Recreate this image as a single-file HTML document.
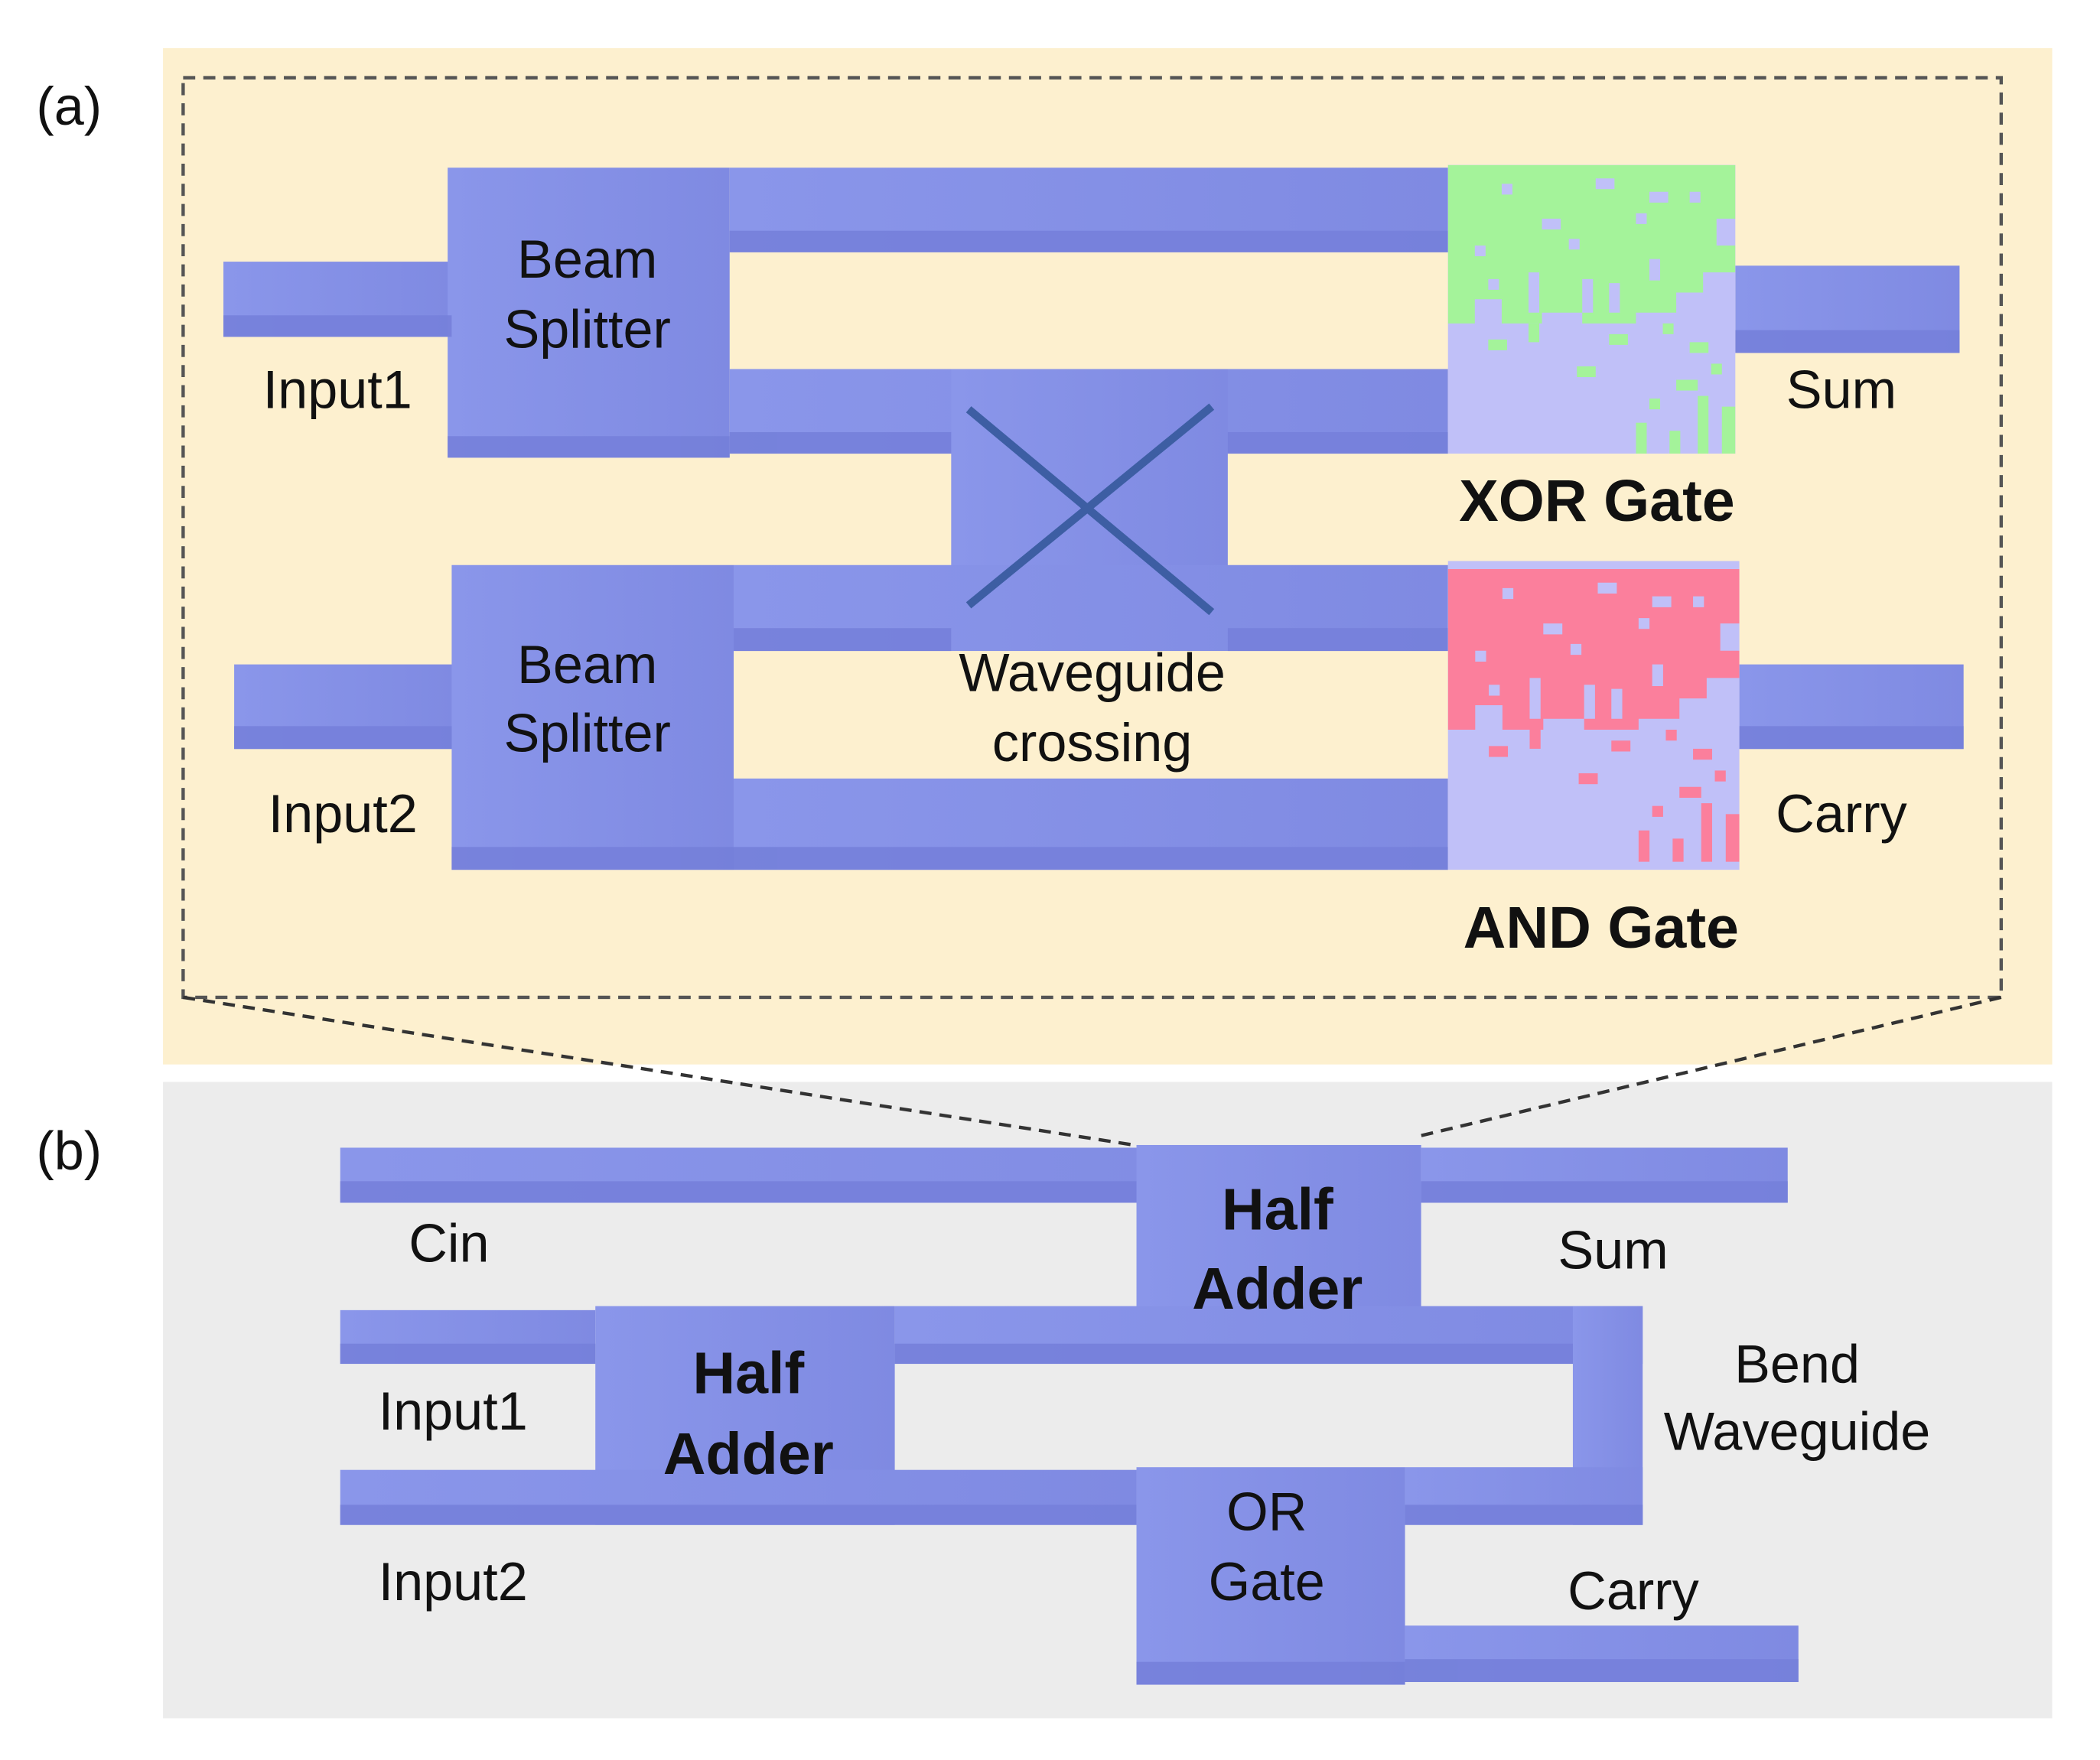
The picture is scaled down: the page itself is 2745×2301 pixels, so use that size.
<!DOCTYPE html>
<html><head><meta charset="utf-8"><style>html,body{margin:0;padding:0;background:#fff}svg{display:block}text{font-family:"Liberation Sans",Arial,sans-serif;fill:#111}</style></head>
<body>
<svg width="2745" height="2301" viewBox="3.6 2.1 1564 1311" preserveAspectRatio="none" xmlns="http://www.w3.org/2000/svg">
<defs>
<linearGradient id="wg" x1="0" y1="0" x2="1" y2="0"><stop offset="0" stop-color="#8a96ea"/><stop offset="1" stop-color="#7f8ae2"/></linearGradient>
<symbol id="pat" viewBox="0 0 214 215">
<path fill-rule="evenodd" d="M0,0 H214 V40 H200 V60 H214 V80 H190 V95 H170 V110 H140 V118 H100 V110 H70 V118 H40 V100 H20 V118 H0 Z M40,14 h8 v8 h-8 Z M110,10 h14 v8 h-14 Z M150,20 h14 v8 h-14 Z M140,36 h8 v8 h-8 Z M20,60 h8 v8 h-8 Z M90,55 h8 v8 h-8 Z M30,85 h8 v8 h-8 Z M60,80 h8 v30 h-8 Z M100,85 h8 v25 h-8 Z M120,88 h8 v22 h-8 Z M180,20 h8 v8 h-8 Z M70,40 h14 v8 h-14 Z M150,70 h8 v16 h-8 Z"/>
<rect x="60" y="118" width="8" height="14"/><rect x="120" y="126" width="14" height="8"/><rect x="160" y="118" width="8" height="8"/><rect x="180" y="132" width="14" height="8"/><rect x="196" y="148" width="8" height="8"/><rect x="170" y="160" width="16" height="8"/><rect x="150" y="174" width="8" height="8"/><rect x="186" y="172" width="8" height="43"/><rect x="140" y="192" width="8" height="23"/><rect x="165" y="198" width="8" height="17"/><rect x="204" y="180" width="10" height="35"/><rect x="30" y="130" width="14" height="8"/><rect x="96" y="150" width="14" height="8"/>
</symbol>
</defs>
<rect x="-10" y="-10" width="1600" height="1340" fill="#fff"/>
<rect x="125" y="38" width="1407" height="757" fill="#fdf0cf"/>
<rect x="125" y="808" width="1407" height="474" fill="#ececec"/>
<text x="55" y="95" font-size="40" text-anchor="middle">(a)</text>
<text x="55" y="873" font-size="40" text-anchor="middle">(b)</text>
<rect x="140" y="60" width="1354" height="685" fill="none" stroke="#555" stroke-width="2.5" stroke-dasharray="9,6"/>
<line x1="140" y1="745" x2="848" y2="855" stroke="#333" stroke-width="2.5" stroke-dasharray="9,6"/>
<line x1="1494" y1="745" x2="1062" y2="848" stroke="#333" stroke-width="2.5" stroke-dasharray="9,6"/>
<g fill="url(#wg)">
<rect x="170" y="197" width="170" height="56"/>
<rect x="337" y="127" width="210" height="216"/>
<rect x="547" y="127" width="535" height="63"/>
<rect x="547" y="277" width="535" height="63"/>
<rect x="712" y="277" width="206" height="193"/>
<rect x="1296" y="200" width="167" height="65"/>
<rect x="178" y="497" width="164" height="63"/>
<rect x="340" y="423" width="210" height="227"/>
<rect x="550" y="423" width="532" height="64"/>
<rect x="550" y="582" width="532" height="68"/>
<rect x="1299" y="497" width="167" height="63"/>
<rect x="257" y="857" width="805" height="41"/>
<rect x="850" y="855" width="212" height="160"/>
<rect x="1062" y="857" width="273" height="41"/>
<rect x="257" y="978" width="190" height="40"/>
<rect x="447" y="975" width="223" height="163"/>
<rect x="670" y="975" width="557" height="43"/>
<rect x="1175" y="975" width="52" height="163"/>
<rect x="1050" y="1095" width="177" height="43"/>
<rect x="257" y="1097" width="593" height="41"/>
<rect x="850" y="1095" width="200" height="162"/>
<rect x="1050" y="1213" width="293" height="42"/>
</g>
<g fill="#7580da" opacity="0.9">
<rect x="170" y="237" width="170" height="16"/>
<rect x="337" y="327" width="210" height="16"/>
<rect x="547" y="174" width="535" height="16"/>
<rect x="547" y="324" width="165" height="16"/>
<rect x="918" y="324" width="164" height="16"/>
<rect x="1296" y="248" width="167" height="17"/>
<rect x="178" y="543" width="162" height="17"/>
<rect x="340" y="633" width="210" height="17"/>
<rect x="550" y="470" width="162" height="17"/>
<rect x="918" y="470" width="164" height="17"/>
<rect x="550" y="633" width="532" height="17"/>
<rect x="1299" y="543" width="167" height="17"/>
<rect x="257" y="882" width="593" height="16"/>
<rect x="1062" y="882" width="273" height="16"/>
<rect x="257" y="1003" width="190" height="15"/>
<rect x="670" y="1003" width="505" height="15"/>
<rect x="257" y="1123" width="593" height="15"/>
<rect x="1050" y="1123" width="177" height="15"/>
<rect x="850" y="1240" width="200" height="17"/>
<rect x="1050" y="1238" width="293" height="17"/>
</g>
<rect x="1082" y="125" width="214" height="215" fill="#c0c0f8"/>
<use href="#pat" x="1082" y="125" width="214" height="215" fill="#a4f39a"/>
<rect x="1082" y="420" width="217" height="230" fill="#c0c0f8"/>
<use href="#pat" x="1082" y="420" width="217" height="230" fill="#fb7f9c"/>
<g stroke="#3d5ea3" stroke-width="6" fill="none">
<line x1="725" y1="307" x2="906" y2="458"/>
<line x1="725" y1="453" x2="906" y2="305"/>
</g>
<g font-size="40" text-anchor="middle">
<text x="441" y="209">Beam</text><text x="441" y="261">Splitter</text>
<text x="255" y="306">Input1</text>
<text x="1375" y="306">Sum</text>
<text x="441" y="511">Beam</text><text x="441" y="562">Splitter</text>
<text x="817" y="517">Waveguide</text><text x="817" y="569">crossing</text>
<text x="259" y="622">Input2</text>
<text x="1375" y="622">Carry</text>
<text x="338" y="942">Cin</text>
<text x="1205" y="947">Sum</text>
<text x="341" y="1067">Input1</text>
<text x="1342" y="1032">Bend</text><text x="1342" y="1082">Waveguide</text>
<text x="341" y="1194">Input2</text>
<text x="947" y="1142">OR</text><text x="947" y="1194">Gate</text>
<text x="1220" y="1201">Carry</text>
</g>
<g font-size="44" font-weight="bold" text-anchor="middle">
<text x="1193" y="390">XOR Gate</text>
<text x="1196" y="708">AND Gate</text>
<text x="955" y="918">Half</text><text x="955" y="977">Adder</text>
<text x="561" y="1040">Half</text><text x="561" y="1100">Adder</text>
</g>
</svg>
</body></html>
